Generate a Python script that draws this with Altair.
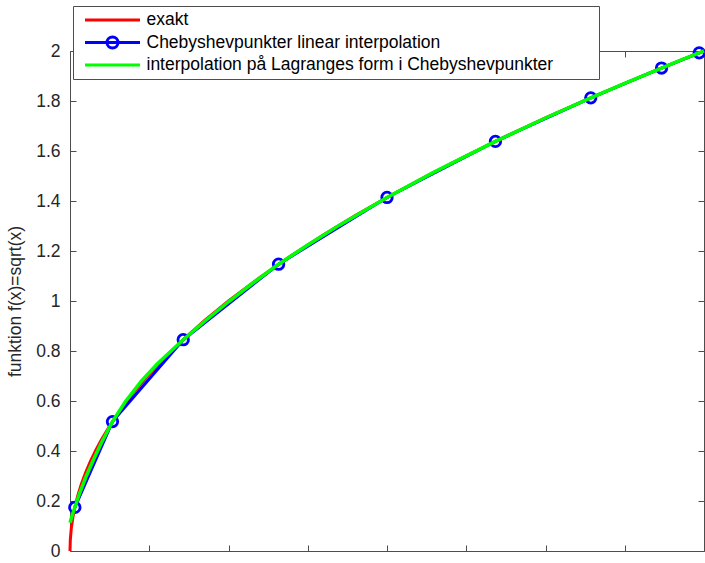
import altair as alt
import pandas as pd

# exact function samples
exact_x = [0, 0.002, 0.008, 0.018, 0.032, 0.05, 0.072, 0.098, 0.128, 0.162, 0.2, 0.25,
           0.32, 0.4, 0.5, 0.6, 0.72, 0.85, 1.0, 1.2, 1.4, 1.6, 1.8, 2.0, 2.25, 2.5,
           2.75, 3.0, 3.25, 3.5, 3.75, 4.0]
exact_y = [0, 0.0447, 0.0894, 0.1342, 0.1789, 0.2236, 0.2683, 0.3130, 0.3578, 0.4025,
           0.4472, 0.5, 0.5657, 0.6325, 0.7071, 0.7746, 0.8485, 0.9220, 1.0, 1.0954,
           1.1832, 1.2649, 1.3416, 1.4142, 1.5, 1.5811, 1.6583, 1.7321, 1.8028, 1.8708,
           1.9365, 2.0]

# Chebyshev points
cheb_x = [0.0304, 0.2679, 0.7144, 1.3160, 2.0000, 2.6840, 3.2856, 3.7321, 3.9696]
cheb_y = [0.1743, 0.5176, 0.8452, 1.1472, 1.4142, 1.6383, 1.8126, 1.9319, 1.9924]

# Lagrange interpolation curve
lag_x = [0, 0.01, 0.0304, 0.06, 0.1, 0.15, 0.2, 0.2679, 0.35, 0.45, 0.55, 0.7144,
         0.85, 1.0, 1.15, 1.316, 1.5, 1.7, 2.0, 2.3, 2.684, 3.0, 3.2856, 3.5, 3.7321,
         3.85, 3.9696, 4.0]
lag_y = [0.113, 0.135, 0.1743, 0.230, 0.296, 0.368, 0.435, 0.5176, 0.598, 0.679, 0.748,
         0.8452, 0.919, 0.997, 1.070, 1.1472, 1.2243, 1.3035, 1.4142, 1.5163, 1.6383,
         1.7321, 1.8126, 1.8708, 1.9319, 1.9621, 1.9924, 2.0001]

series = ["exakt",
          "Chebyshevpunkter linear interpolation",
          "interpolation på Lagranges form i Chebyshevpunkter"]
colors = ["#ff0000", "#0000ff", "#00ff00"]

x_ticks = [0, 0.5, 1, 1.5, 2, 2.5, 3, 3.5, 4]
y_ticks = [0, 0.2, 0.4, 0.6, 0.8, 1.0, 1.2, 1.4, 1.6, 1.8, 2.0]

exact_df = pd.DataFrame({"x": exact_x, "y": exact_y, "series": series[0]})
cheb_df = pd.DataFrame({"x": cheb_x, "y": cheb_y, "series": series[1]})
lag_df = pd.DataFrame({"x": lag_x, "y": lag_y, "series": series[2]})

FONT = "Liberation Sans"
AX = "#4d4d4d"
xs = alt.Scale(domain=[0, 4], nice=False, zero=False)
ys = alt.Scale(domain=[0, 2], nice=False, zero=False)
cs = alt.Scale(domain=series, range=colors)

def tick_axis(orient, values):
    return alt.Axis(orient=orient, offset=-6, tickSize=6, labels=False, domain=False,
                    grid=False, title=None, values=values, tickColor=AX, tickWidth=1)

line_path = "M-1,0H1"
circ_path = "M-1,0H1M0.2,0A0.2,0.2,0,1,1,-0.2,0A0.2,0.2,0,1,1,0.2,0"

legend = alt.Legend(
    title=".", titleOrient="right", titleColor="#ffffff", titleFontSize=8,
    titlePadding=40,
    orient="none", legendX=3, legendY=-45,
    padding=3, clipHeight=22, rowPadding=0.5,
    symbolSize=3025, symbolStrokeWidth=3, symbolOffset=7.5, labelOffset=5,
    symbolFillColor="transparent",
    symbolType={"expr": "datum.value === '" + series[1] + "' ? '" + circ_path
                + "' : '" + line_path + "'"},
    labelFont=FONT, labelFontSize=17.5, labelColor="#000000", labelLimit=1000,
    strokeColor=AX, fillColor="#ffffff",
)

red = alt.Chart(exact_df).mark_line(strokeWidth=3).encode(
    x=alt.X("x:Q", scale=xs, axis=tick_axis("bottom", x_ticks)),
    y=alt.Y("y:Q", scale=ys, axis=alt.Axis(
        orient="left", values=y_ticks, format=".1~f", ticks=False, tickSize=0,
        domain=False, grid=False, labelPadding=10, labelFont=FONT, labelFontSize=17.5,
        labelColor="#262626", title="funktion f(x)=sqrt(x)", titleFont=FONT,
        titleFontSize=17.5, titleFontWeight="normal", titleColor="#262626",
        titlePadding=11)),
    color=alt.Color("series:N", scale=cs, legend=legend),
)

blue = alt.Chart(cheb_df).mark_line(strokeWidth=3).encode(
    x=alt.X("x:Q", scale=xs, axis=tick_axis("top", x_ticks)),
    y=alt.Y("y:Q", scale=ys, axis=tick_axis("left", y_ticks)),
    color=alt.Color("series:N", scale=cs, legend=None),
)

pts = alt.Chart(cheb_df).mark_point(shape="circle", filled=False, size=110,
                                    strokeWidth=2.8, color="#0000ff", opacity=1).encode(
    x=alt.X("x:Q", scale=xs, axis=None),
    y=alt.Y("y:Q", scale=ys, axis=tick_axis("right", y_ticks)),
)

green = alt.Chart(lag_df).mark_line(strokeWidth=3.5).encode(
    x=alt.X("x:Q", scale=xs, axis=None),
    y=alt.Y("y:Q", scale=ys, axis=None),
    color=alt.Color("series:N", scale=cs, legend=None),
)

chart = alt.layer(red, blue, pts, green).resolve_axis(
    x="independent", y="independent"
).properties(
    width=634, height=500, autosize="none",
    padding={"left": 70, "top": 51, "right": 1, "bottom": 12},
    background="#ffffff",
).configure_view(stroke=AX, strokeWidth=1)

chart.save("out.html", embed_options={"renderer": "svg", "actions": False})
